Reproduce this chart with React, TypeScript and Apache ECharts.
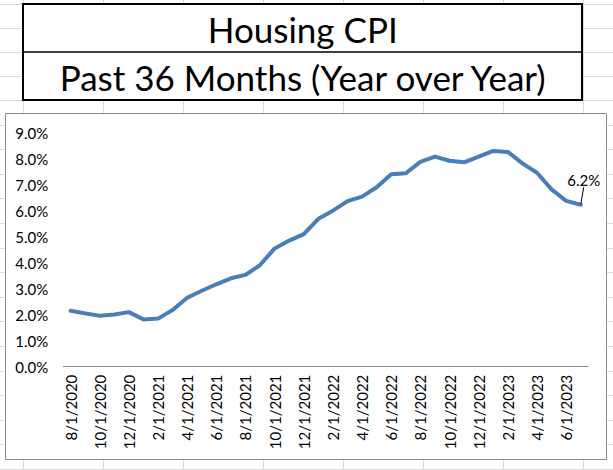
import React, { useEffect, useRef } from "react";
import * as echarts from "echarts";

const months = [
  "8/1/2020", "9/1/2020", "10/1/2020", "11/1/2020", "12/1/2020", "1/1/2021",
  "2/1/2021", "3/1/2021", "4/1/2021", "5/1/2021", "6/1/2021", "7/1/2021",
  "8/1/2021", "9/1/2021", "10/1/2021", "11/1/2021", "12/1/2021", "1/1/2022",
  "2/1/2022", "3/1/2022", "4/1/2022", "5/1/2022", "6/1/2022", "7/1/2022",
  "8/1/2022", "9/1/2022", "10/1/2022", "11/1/2022", "12/1/2022", "1/1/2023",
  "2/1/2023", "3/1/2023", "4/1/2023", "5/1/2023", "6/1/2023", "7/1/2023",
];

const housingCpiYoY = [
  2.15, 2.05, 1.96, 2.01, 2.1, 1.82, 1.85, 2.18, 2.65, 2.92, 3.17, 3.4,
  3.53, 3.91, 4.55, 4.85, 5.1, 5.69, 6.0, 6.37, 6.54, 6.9, 7.4, 7.44,
  7.88, 8.08, 7.92, 7.86, 8.08, 8.3, 8.26, 7.82, 7.46, 6.82, 6.38, 6.23,
];

const titleLines = ["Housing CPI", "Past 36 Months (Year over Year)"];

const yMin = 0;
const yMax = 9;
const yStep = 1;

const FONT = "Lato, 'Open Sans', sans-serif";

export default function App() {
  const ref = useRef<HTMLDivElement>(null);

  useEffect(() => {
    const chart = echarts.init(ref.current!, null, { renderer: "svg" });
    const W = 613;
    const H = 470;

    // spreadsheet grid lines (decoration)
    const gridEls: any[] = [];
    const rowYs: number[] = [4, 28, 52, 76, 100];
    for (let y = 124.6; y < H; y += 24.6) rowYs.push(y);
    rowYs.forEach((y) => {
      const yy = Math.round(y) + 0.5;
      gridEls.push({
        type: "line",
        z: -20,
        shape: { x1: 0, y1: yy, x2: W, y2: yy },
        style: { stroke: "#dadada", lineWidth: 1 },
        silent: true,
      });
    });
    for (let x = 22.7; x < W; x += 80) {
      const xx = Math.round(x) + 0.5;
      gridEls.push({
        type: "line",
        z: -20,
        shape: { x1: xx, y1: 0, x2: xx, y2: H },
        style: { stroke: "#dadada", lineWidth: 1 },
        silent: true,
      });
    }

    const boxEls: any[] = [
      {
        type: "rect",
        z: -10,
        shape: { x: 5.5, y: 113.5, width: 601, height: 346 },
        style: { fill: "#ffffff", stroke: "#8a8a8a", lineWidth: 1 },
        silent: true,
      },
      {
        type: "rect",
        z: -10,
        shape: { x: 23, y: 4, width: 559, height: 96 },
        style: { fill: "#ffffff", stroke: "#000000", lineWidth: 2 },
        silent: true,
      },
      {
        type: "line",
        z: -9,
        shape: { x1: 23, y1: 52, x2: 582, y2: 52 },
        style: { stroke: "#000000", lineWidth: 1.3 },
        silent: true,
      },
      {
        type: "text",
        z: 10,
        x: 302.7,
        y: 29,
        style: {
          text: titleLines[0],
          fontSize: 35,
          fontFamily: FONT,
          fill: "#000000",
          textAlign: "center",
          textVerticalAlign: "middle",
        },
      },
      {
        type: "text",
        z: 10,
        x: 302.7,
        y: 77,
        style: {
          text: titleLines[1],
          fontSize: 35,
          fontFamily: FONT,
          fill: "#000000",
          textAlign: "center",
          textVerticalAlign: "middle",
        },
      },
    ];

    const last = housingCpiYoY.length - 1;
    const seriesData = housingCpiYoY.map((v, i) =>
      i === last
        ? {
            value: v,
            symbol: "circle",
            symbolSize: 1,
            itemStyle: { color: "rgba(0,0,0,0)" },
            label: {
              show: true,
              position: "top",
              formatter: (p: any) => Number(p.value).toFixed(1) + "%",
              fontSize: 15,
              fontFamily: FONT,
              color: "#000000",
            },
          }
        : { value: v, symbol: "none" }
    );

    chart.setOption({
      animation: false,
      backgroundColor: "#ffffff",
      graphic: { elements: [...gridEls, ...boxEls] },
      grid: { left: 63.3, right: 25, top: 132.7, bottom: 103.3, containLabel: false },
      xAxis: {
        type: "category",
        data: months,
        boundaryGap: true,
        axisLine: { show: true, lineStyle: { color: "#8c8c8c", width: 1 } },
        axisTick: { show: false },
        splitLine: { show: false },
        axisLabel: {
          rotate: 90,
          interval: 1,
          margin: 8,
          fontSize: 15,
          fontFamily: FONT,
          color: "#000000",
        },
      },
      yAxis: {
        type: "value",
        min: yMin,
        max: yMax,
        interval: yStep,
        axisLine: { show: false },
        axisTick: { show: false },
        splitLine: { show: false },
        axisLabel: {
          margin: 15,
          fontSize: 15,
          fontFamily: FONT,
          color: "#000000",
          formatter: (v: number) => v.toFixed(1) + "%",
        },
      },
      series: [
        {
          type: "line",
          data: seriesData,
          showSymbol: true,
          symbol: "none",
          lineStyle: { color: "#4a7ebb", width: 4, join: "round", cap: "round" },
          itemStyle: { color: "#4a7ebb" },
          labelLine: { show: true, lineStyle: { color: "#000000", width: 1 } },
          labelLayout: { dx: 3, dy: -12 },
          z: 5,
        },
      ],
    });

    return () => chart.dispose();
  }, []);

  return (
    <div
      ref={ref}
      style={{ position: "absolute", left: 0, top: 0, width: 613, height: 470, background: "#fff" }}
    />
  );
}
